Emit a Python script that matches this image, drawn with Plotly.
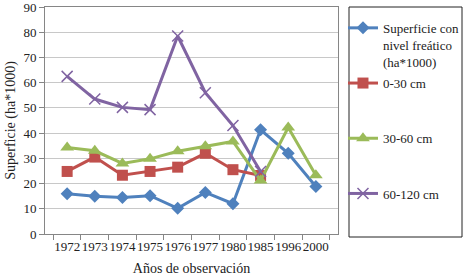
import plotly.graph_objects as go

years = ["1972", "1973", "1974", "1975", "1976", "1977", "1980", "1985", "1996", "2000"]
superficie = [16.0, 15.0, 14.5, 15.2, 10.2, 16.5, 12.0, 41.3, 32.0, 18.8]
cm_0_30 = [24.8, 30.5, 23.3, 24.8, 26.5, 32.0, 25.5, 23.2, None, None]
cm_30_60 = [34.3, 33.0, 28.0, 29.8, 32.8, 34.8, 36.7, 21.2, 42.2, 23.3]
cm_60_120 = [62.5, 53.5, 50.2, 49.3, 78.5, 56.0, 43.0, 24.8, None, None]

names = ["Superficie con<br>nivel freático<br>(ha*1000)", "0-30 cm<br> <br> ", "30-60 cm<br> <br> ", "60-120 cm<br> <br> "]
colors = ["#4F81BD", "#C0504D", "#9BBB59", "#8064A2"]
symbols = ["diamond", "square", "triangle-up", "x-thin"]
sizes = [10, 11, 12, 11]
series = [superficie, cm_0_30, cm_30_60, cm_60_120]

font = "Times New Roman, Liberation Serif, serif"
tf = dict(family=font, size=13, color="#222222")

fig = go.Figure()
for i, (vals, nm, c, s, sz) in enumerate(zip(series, names, colors, symbols, sizes)):
    marker = dict(symbol=s, size=sz, color=c)
    if s == "x-thin":
        marker["line"] = dict(color=c, width=1.5)
    fig.add_trace(go.Scatter(
        x=years, y=vals, name=nm, mode="lines+markers",
        line=dict(color=c, width=3), marker=marker,
        legendgroup=f"g{i}", connectgaps=False,
    ))

fig.update_layout(
    width=464, height=276,
    margin=dict(l=45, r=126, t=7, b=42, autoexpand=False),
    paper_bgcolor="white", plot_bgcolor="white",
    font=tf,
    showlegend=True,
    legend=dict(
        x=1.017, xanchor="left", y=0.974, yanchor="top",
        font=tf,
        tracegroupgap=1.5, valign="top", bgcolor="rgba(0,0,0,0)",
        borderwidth=0, traceorder="grouped",
    ),
    shapes=[dict(type="rect", xref="paper", yref="paper",
                 x0=(349 - 45) / 293, x1=(462 - 45) / 293,
                 y0=(234 - 237) / 227, y1=(234 - 7) / 227,
                 line=dict(color="#222222", width=1), fillcolor="rgba(0,0,0,0)")],
)
fig.update_xaxes(
    type="category", showline=True, linecolor="#868686", linewidth=1, mirror=True,
    ticks="outside", tickson="boundaries", ticklen=5, tickcolor="#868686",
    showgrid=False, tickangle=0, tickfont=tf, automargin=False,
    title=dict(text="Años de observación", font=dict(family=font, size=14, color="#222222"), standoff=10),
)
fig.update_yaxes(
    range=[0, 90], dtick=10, showline=True, linecolor="#868686", linewidth=1, mirror=True,
    ticks="outside", ticklen=5, tickcolor="#868686", tickfont=tf, automargin=False,
    ticklabeloverflow="allow",
    showgrid=True, gridcolor="#C8C8C8", gridwidth=1, zeroline=False,
    title=dict(text="Superficie (ha*1000)", font=dict(family=font, size=14, color="#222222"), standoff=4),
)

fig.write_html("out.html", config={"displayModeBar": False},
               post_script="document.body.style.margin='0';")
